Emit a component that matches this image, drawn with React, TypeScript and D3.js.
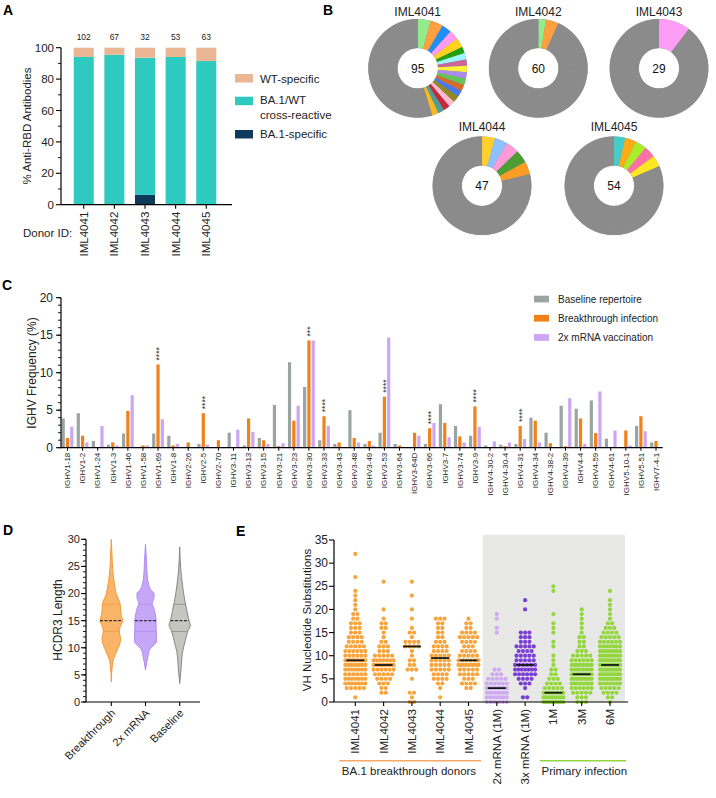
import React from 'react';
import * as d3 from 'd3';

const FONT = "'Liberation Sans', Arial, Helvetica, sans-serif";

// ---------- Panel A ----------
const donorIds = ['IML4041', 'IML4042', 'IML4043', 'IML4044', 'IML4045'];
const donorCounts = [102, 67, 32, 53, 63];
const ba1Specific = [0, 0, 6.25, 0, 0];
const crossReactive = [94.1, 95.5, 87.4, 94.1, 91.5];
const wtSpecific = [5.9, 4.5, 6.35, 5.9, 8.5];
const aTicks = [0, 20, 40, 60, 80, 100];
const aColors = { wt: '#ebb694', cross: '#2ec9bf', ba1: '#0e3a5c' };

// ---------- Panel B ----------
const donutTotals = [95, 60, 29, 47, 54];
const clones4041 = [4, 4, 3, 3, 3, 2, 2, 2, 2, 2, 2, 2, 2, 2, 2, 2, 2, 2];
const colors4041 = ['#93ec8c', '#ffa040', '#1f8ff5', '#ff9bf0', '#ffd31c', '#23a00c', '#9cf6ff', '#c9659b', '#fff03a', '#a98cec', '#63c65b', '#d46c2c', '#4a78ee', '#8f8b1f', '#ffbad0', '#c62a3a', '#4e9d9c', '#f7b91c'];
const clones4042 = [1.5, 2.5];
const colors4042 = ['#93ec8c', '#ffa040'];
const clones4043 = [3];
const colors4043 = ['#ff9cf6'];
const clones4044 = [2, 2, 2, 2, 2];
const colors4044 = ['#ffd02c', '#8cc0ff', '#ff9ad8', '#4b9e32', '#ff9c24'];
const clones4045 = [2, 2, 2, 2, 2];
const colors4045 = ['#45cdcb', '#ffab16', '#aaee2a', '#ff70a8', '#ffe822'];

// ---------- Panel C ----------
const genes = ['IGHV1-18', 'IGHV1-2', 'IGHV1-24', 'IGHV1-3', 'IGHV1-46', 'IGHV1-58', 'IGHV1-69', 'IGHV1-8', 'IGHV2-26', 'IGHV2-5', 'IGHV2-70', 'IGHV3-11', 'IGHV3-13', 'IGHV3-15', 'IGHV3-21', 'IGHV3-23', 'IGHV3-30', 'IGHV3-33', 'IGHV3-43', 'IGHV3-48', 'IGHV3-49', 'IGHV3-53', 'IGHV3-64', 'IGHV3-64D', 'IGHV3-66', 'IGHV3-7', 'IGHV3-74', 'IGHV3-9', 'IGHV4-30-2', 'IGHV4-30-4', 'IGHV4-31', 'IGHV4-34', 'IGHV4-38-2', 'IGHV4-39', 'IGHV4-4', 'IGHV4-59', 'IGHV4-61', 'IGHV5-10-1', 'IGHV5-51', 'IGHV7-4-1'];
const baseline = [3.9, 4.6, 0.9, 0.4, 1.9, 0, 1.9, 1.6, 0, 0.5, 0, 2.0, 0.3, 1.3, 5.7, 11.4, 8.1, 1.0, 0.5, 5.0, 0.5, 2.0, 0.5, 0, 0.5, 5.8, 2.9, 1.6, 0.3, 0.4, 0.5, 4.0, 2.0, 5.6, 5.2, 6.3, 1.2, 0, 2.9, 0.7];
const breakthrough = [1.3, 1.6, 0, 0.7, 4.9, 0.3, 11.1, 0.3, 0.7, 4.6, 1.0, 0, 3.9, 1.0, 0.2, 3.6, 14.3, 4.2, 0.7, 1.3, 0.9, 6.8, 0.3, 2.0, 2.6, 3.3, 1.5, 5.5, 0, 0.2, 2.9, 3.6, 0.6, 0.2, 3.9, 1.95, 0, 2.3, 4.2, 0.9];
const mrna2x = [2.8, 0.7, 2.9, 0.3, 7.0, 0.3, 3.8, 0.5, 0, 0.4, 0, 2.4, 2.1, 0.5, 0.6, 5.6, 14.3, 2.9, 0.1, 0.7, 0.3, 14.7, 0, 1.6, 3.3, 1.4, 0.7, 2.8, 0.85, 0.7, 1.15, 0.7, 0, 6.6, 0.5, 7.5, 2.3, 0.3, 2.2, 0];
const significance = ['', '', '', '', '', '', '****', '', '', '****', '', '', '', '', '', '', '***', '****', '', '', '', '****', '', '', '****', '', '', '****', '', '', '****', '', '', '', '', '', '', '', '', ''];
const cSeries = ['Baseline repertoire', 'Breakthrough infection', '2x mRNA vaccination'];
const cColors = ['#9aa5a3', '#f28119', '#cca6f4'];

// ---------- Panel D ----------
const violinGroups = ['Breakthrough', '2x mRNA', 'Baseline'];
const violinBreakthrough: [number, number][] = [[30, 0], [27.1, 0.06], [24.6, 0.12], [22.8, 0.21], [20.9, 0.35], [19.4, 0.53], [18.5, 0.74], [17.9, 0.79], [17, 0.82], [16, 0.88], [15, 1], [13.9, 0.79], [13, 0.71], [11.7, 0.82], [10.8, 0.76], [9.9, 0.59], [9, 0.41], [8, 0.21], [6.8, 0.09], [3.7, 0]];
const violinMrna: [number, number][] = [[29.1, 0], [25.9, 0.09], [23.4, 0.15], [21.6, 0.29], [20.6, 0.5], [20, 0.76], [19.1, 0.74], [18.2, 0.59], [17.3, 0.74], [16, 0.88], [15, 0.94], [13.9, 0.94], [12.4, 0.97], [11.1, 0.97], [10.5, 0.74], [9.6, 0.35], [8.7, 0.24], [5.9, 0]];
const violinBaseline: [number, number][] = [[28.6, 0], [24.6, 0.09], [21.6, 0.24], [18.5, 0.47], [16.7, 0.65], [15, 0.82], [14.2, 0.94], [13, 0.71], [11.1, 0.47], [9.3, 0.26], [6.2, 0.12], [3.4, 0]];
const violinQuartiles = [[13, 15, 18], [13, 15, 18], [13, 15, 18]];
const violinFill = ['#f9b468', '#c6a6f6', '#c4c6bf'];
const violinStroke = ['#f59a3a', '#b08cf0', '#85887f'];

// ---------- Panel E ----------
const eGroups = ['IML4041', 'IML4042', 'IML4043', 'IML4044', 'IML4045', '2x mRNA (1M)', '3x mRNA (1M)', '1M', '3M', '6M'];
const eMedians = [9, 8, 12, 9.5, 9, 3, 8, 2, 6, 8];
const eColors = ['#f7a43c', '#f7a43c', '#f7a43c', '#f7a43c', '#f7a43c', '#cfaaf3', '#7b3fd4', '#93d63e', '#93d63e', '#93d63e'];
const dist4041: [number, number][] = [[32, 1], [27, 1], [24, 1], [23, 1], [22, 1], [21, 1], [20, 1], [19, 2], [18, 2], [17, 3], [16, 3], [15, 3], [14, 4], [13, 4], [12, 5], [11, 6], [10, 6], [9, 9], [8, 8], [7, 7], [6, 6], [5, 7], [4, 7], [3, 5], [1, 1]];
const dist4042: [number, number][] = [[26, 1], [20, 1], [18, 1], [17, 2], [16, 2], [15, 1], [14, 1], [13, 2], [12, 3], [11, 3], [10, 5], [9, 7], [8, 9], [7, 6], [6, 5], [5, 4], [4, 3], [3, 2], [2, 2]];
const dist4043: [number, number][] = [[26, 1], [23, 1], [20, 1], [18, 1], [16, 1], [15, 2], [14, 1], [13, 4], [12, 4], [11, 1], [10, 1], [9, 2], [8, 2], [7, 3], [5, 1], [2, 2], [1, 1], [0, 2]];
const dist4044: [number, number][] = [[18, 3], [17, 2], [16, 2], [15, 2], [14, 2], [13, 3], [12, 4], [11, 4], [10, 5], [9, 5], [8, 5], [7, 5], [6, 4], [5, 4], [4, 2], [3, 1], [1, 1]];
const dist4045: [number, number][] = [[18, 1], [17, 2], [16, 2], [15, 4], [14, 5], [13, 4], [12, 3], [11, 4], [10, 5], [9, 6], [8, 8], [7, 5], [6, 5], [5, 3], [4, 4], [3, 2]];
const distMrna2: [number, number][] = [[19, 1], [18, 1], [16, 1], [15, 1], [7, 2], [6, 3], [5, 5], [4, 6], [3, 8], [2, 8], [1, 7], [0, 6]];
const distMrna3: [number, number][] = [[22, 1], [20, 1], [15, 3], [14, 3], [13, 3], [12, 5], [11, 4], [10, 5], [9, 5], [8, 6], [7, 7], [6, 6], [5, 4], [4, 3], [3, 1], [1, 2]];
const dist1M: [number, number][] = [[25, 1], [24, 1], [19, 1], [17, 1], [16, 1], [15, 1], [13, 1], [12, 1], [10, 1], [9, 1], [8, 1], [7, 2], [6, 2], [5, 3], [4, 4], [3, 5], [2, 8], [1, 9], [0, 11]];
const dist3M: [number, number][] = [[20, 1], [19, 1], [18, 1], [17, 1], [16, 1], [15, 1], [14, 2], [13, 2], [12, 2], [11, 3], [10, 5], [9, 6], [8, 8], [7, 8], [6, 9], [5, 9], [4, 8], [3, 6], [2, 5], [1, 3], [0, 3]];
const dist6M: [number, number][] = [[24, 1], [22, 1], [21, 1], [20, 1], [19, 1], [18, 1], [17, 2], [16, 3], [15, 4], [14, 5], [13, 6], [12, 7], [11, 8], [10, 9], [9, 10], [8, 10], [7, 11], [6, 11], [5, 10], [4, 7], [3, 5], [2, 4], [1, 2], [0, 1]];
const eDists = [dist4041, dist4042, dist4043, dist4044, dist4045, distMrna2, distMrna3, dist1M, dist3M, dist6M];

const PanelLetter = ({ x, y, t }: { x: number; y: number; t: string }) => (
  <text x={x} y={y} fontSize={14} fontWeight="bold" fontFamily={FONT}>{t}</text>
);

function YAxis({ scale, x, major, minor, fs, labelGap = 7 }: any) {
  const [r0, r1] = scale.range();
  return (
    <g>
      <line x1={x} x2={x} y1={r0} y2={r1} stroke="#000" strokeWidth={1.2} />
      {minor.map((v: number) => (
        <line key={'m' + v} x1={x - 3} x2={x} y1={scale(v)} y2={scale(v)} stroke="#000" strokeWidth={0.9} />
      ))}
      {major.map((v: number) => (
        <g key={'M' + v}>
          <line x1={x - 5} x2={x} y1={scale(v)} y2={scale(v)} stroke="#000" strokeWidth={1.1} />
          <text x={x - labelGap} y={scale(v)} dy="0.35em" textAnchor="end" fontSize={fs} fontFamily={FONT} fill="#222">{v}</text>
        </g>
      ))}
    </g>
  );
}

function PanelA() {
  const y = d3.scaleLinear().domain([0, 100]).range([204.7, 47.7]);
  const x = d3.scaleBand().domain(donorIds).range([61, 229]).paddingInner(0.346).paddingOuter(0.415);
  const stack = donorIds.map((d, i) => ({ d, a: ba1Specific[i], b: crossReactive[i], c: wtSpecific[i] }));
  const minor = d3.range(10, 100, 20);
  const leg = [
    { c: aColors.wt, y0: 74, lines: ['WT-specific'], ty: 79 },
    { c: aColors.cross, y0: 96.7, lines: ['BA.1/WT', 'cross-reactive'], ty: 99.5 },
    { c: aColors.ba1, y0: 130, lines: ['BA.1-specific'], ty: 134 },
  ];
  return (
    <g>
      <PanelLetter x={3} y={15} t="A" />
      {stack.map((s, i) => {
        const bx = x(s.d)!;
        const w = x.bandwidth();
        return (
          <g key={s.d}>
            {s.a > 0 && <rect x={bx} width={w} y={y(s.a)} height={y(0) - y(s.a)} fill={aColors.ba1} />}
            <rect x={bx} width={w} y={y(s.a + s.b)} height={y(s.a) - y(s.a + s.b)} fill={aColors.cross} />
            <rect x={bx} width={w} y={y(s.a + s.b + s.c)} height={y(s.a + s.b) - y(s.a + s.b + s.c)} fill={aColors.wt} />
            <text x={bx + w / 2} y={39.5} textAnchor="middle" fontSize={8.5} fontFamily={FONT} fill="#222">{donorCounts[i]}</text>
            <line x1={bx + w / 2} x2={bx + w / 2} y1={y(0)} y2={y(0) + 4} stroke="#000" strokeWidth={1.1} />
            <text transform={`translate(${bx + w / 2},${y(0) + 7}) rotate(-90)`} dy="0.35em" textAnchor="end" fontSize={11.5} fontFamily={FONT} fill="#222">{s.d}</text>
          </g>
        );
      })}
      <YAxis scale={y} x={61} major={aTicks} minor={minor} fs={11.5} />
      <line x1={61} x2={232} y1={y(0)} y2={y(0)} stroke="#000" strokeWidth={1.2} />
      <text transform={`translate(27,126) rotate(-90)`} textAnchor="middle" dy="0.35em" fontSize={11.5} fontFamily={FONT} fill="#222">% Anti-RBD Antibodies</text>
      <text x={23} y={237} fontSize={11.5} fontFamily={FONT} fill="#222">Donor ID:</text>
      {leg.map((l, i) => (
        <g key={i}>
          <rect x={235} y={l.y0} width={18} height={8.5} fill={l.c} />
          {l.lines.map((t, j) => (
            <text key={j} x={260} y={l.ty + j * 15} dy="0.35em" fontSize={11.5} fontFamily={FONT} fill="#222">{t}</text>
          ))}
        </g>
      ))}
    </g>
  );
}

function Donut({ cx, cy, title, total, clones, colors, titleY }: any) {
  const singles = total - d3.sum(clones as number[]);
  const items = [
    ...clones.map((v: number, i: number) => ({ v, c: colors[i], s: 'none', sw: 0 })),
    ...d3.range(Math.round(singles)).map(() => ({ v: 1, c: '#8b8b8b', s: '#929292', sw: 0.25 })),
  ];
  const pie = d3.pie<any>().value((d) => d.v).sort(null);
  const arc = d3.arc<any>().innerRadius(20.3).outerRadius(49.3);
  const ring = d3.arc<any>().innerRadius(20.3).outerRadius(49.3).startAngle(0).endAngle(2 * Math.PI);
  return (
    <g>
      <text x={cx} y={titleY} textAnchor="middle" fontSize={12} fontFamily={FONT} fill="#222">{title}</text>
      <g transform={`translate(${cx},${cy})`}>
        <path d={ring({}) || ''} fill="#8b8b8b" />
        {pie(items).map((a, i) => (
          <path key={i} d={arc(a) || ''} fill={a.data.c} stroke={a.data.s} strokeWidth={a.data.sw} />
        ))}
        <text textAnchor="middle" dy="0.36em" fontSize={12} fontFamily={FONT} fill="#111">{total}</text>
      </g>
    </g>
  );
}

function PanelB() {
  return (
    <g>
      <PanelLetter x={323} y={15} t="B" />
      <Donut cx={417.7} cy={68.3} titleY={16} title="IML4041" total={donutTotals[0]} clones={clones4041} colors={colors4041} />
      <Donut cx={538.3} cy={68.3} titleY={16} title="IML4042" total={donutTotals[1]} clones={clones4042} colors={colors4042} />
      <Donut cx={659} cy={68.3} titleY={16} title="IML4043" total={donutTotals[2]} clones={clones4043} colors={colors4043} />
      <Donut cx={482} cy={185.7} titleY={131} title="IML4044" total={donutTotals[3]} clones={clones4044} colors={colors4044} />
      <Donut cx={614} cy={185.7} titleY={131} title="IML4045" total={donutTotals[4]} clones={clones4045} colors={colors4045} />
    </g>
  );
}

function PanelC() {
  const y = d3.scaleLinear().domain([0, 20]).range([447.7, 297.7]);
  const x = d3.scalePoint().domain(genes).range([67.5, 656]);
  const series = [baseline, breakthrough, mrna2x];
  const offs = [-4.3, 0, 4.3];
  const bw = 3.2;
  return (
    <g>
      <PanelLetter x={2} y={290} t="C" />
      {genes.map((g, i) => {
        const cx = x(g)!;
        return (
          <g key={g}>
            {series.map((s, k) => s[i] > 0 && (
              <rect key={k} x={cx + offs[k] - bw / 2} width={bw} y={y(s[i])} height={y(0) - y(s[i])} fill={cColors[k]} />
            ))}
            {significance[i] && (
              <text transform={`translate(${cx},${y(breakthrough[i]) - 4}) rotate(-90)`} dy="0.52em" fontSize={8.5} fontFamily={FONT} fill="#333">{significance[i]}</text>
            )}
            <line x1={cx} x2={cx} y1={y(0)} y2={y(0) + 3} stroke="#000" strokeWidth={1} />
            <text transform={`translate(${cx},${y(0) + 5}) rotate(-90)`} dy="0.35em" textAnchor="end" fontSize={8} fontFamily={FONT} fill="#222">{g}</text>
          </g>
        );
      })}
      <YAxis scale={y} x={61} major={[0, 5, 10, 15, 20]} minor={d3.range(0, 21)} fs={12} labelGap={8} />
      <line x1={61} x2={662.7} y1={y(0)} y2={y(0)} stroke="#000" strokeWidth={1.3} />
      <text transform={`translate(31.5,373) rotate(-90)`} textAnchor="middle" dy="0.35em" fontSize={12} fontFamily={FONT} fill="#222">IGHV Frequency (%)</text>
      {cSeries.map((s, k) => (
        <g key={s}>
          <rect x={534} y={295.7 + k * 19.2} width={15} height={6.7} fill={cColors[k]} />
          <text x={558} y={299 + k * 19.2} dy="0.35em" fontSize={10} fontFamily={FONT} fill="#222">{s}</text>
        </g>
      ))}
    </g>
  );
}

function interpWidth(profile: [number, number][], v: number) {
  for (let i = 0; i < profile.length - 1; i++) {
    const [a, wa] = profile[i];
    const [b, wb] = profile[i + 1];
    if ((v <= a && v >= b)) {
      const t = (a - v) / (a - b || 1);
      return wa + (wb - wa) * t;
    }
  }
  return 0;
}

function PanelD() {
  const y = d3.scaleLinear().domain([0, 30]).range([702, 539.3]);
  const x = d3.scalePoint().domain(violinGroups).range([111.3, 179.7]);
  const wScale = d3.scaleLinear().domain([0, 1]).range([0, 11.3]);
  const profiles = [violinBreakthrough, violinMrna, violinBaseline];
  return (
    <g>
      <PanelLetter x={3} y={535} t="D" />
      {violinGroups.map((g, i) => {
        const cx = x(g)!;
        const prof = profiles[i];
        const area = d3.area<[number, number]>()
          .y((d) => y(d[0]))
          .x0((d) => cx - wScale(d[1]))
          .x1((d) => cx + wScale(d[1]))
          .curve(d3.curveMonotoneY);
        const q = violinQuartiles[i];
        return (
          <g key={g}>
            <path d={area(prof) || ''} fill={violinFill[i]} stroke={violinStroke[i]} strokeWidth={1} />
            {[q[0], q[2]].map((v, k) => {
              const w = wScale(interpWidth(prof, v));
              return <line key={k} x1={cx - w} x2={cx + w} y1={y(v)} y2={y(v)} stroke={violinStroke[i]} strokeWidth={0.7} />;
            })}
            {(() => {
              const w = wScale(interpWidth(prof, q[1]));
              return <line x1={cx - w} x2={cx + w} y1={y(q[1])} y2={y(q[1])} stroke="#333" strokeWidth={1.2} strokeDasharray="3,1.5" />;
            })()}
            <line x1={cx} x2={cx} y1={y(0)} y2={y(0) + 4} stroke="#000" strokeWidth={1.1} />
            <text transform={`translate(${cx + 2},${y(0) + 9}) rotate(-45)`} textAnchor="end" dy="0.35em" fontSize={11} fontFamily={FONT} fill="#222">{g}</text>
          </g>
        );
      })}
      <YAxis scale={y} x={86} major={[0, 5, 10, 15, 20, 25, 30]} minor={d3.range(0, 31)} fs={11} labelGap={6} />
      <line x1={86} x2={200} y1={y(0)} y2={y(0)} stroke="#000" strokeWidth={1.2} />
      <text transform={`translate(58,620) rotate(-90)`} textAnchor="middle" dy="0.35em" fontSize={12} fontFamily={FONT} fill="#222">HCDR3 Length</text>
    </g>
  );
}

function PanelE() {
  const y = d3.scaleLinear().domain([0, 35]).range([702, 540]);
  const x = d3.scalePoint().domain(eGroups).range([355.3, 610]);
  const maxW = 20;
  const r = 2.1;
  return (
    <g>
      <PanelLetter x={236} y={536} t="E" />
      <rect x={482.7} y={534.7} width={625 - 482.7} height={y(0) - 534.7} fill="#e8e8e7" />
      {eGroups.map((g, i) => {
        const cx = x(g)!;
        const dots: { x: number; y: number }[] = [];
        eDists[i].forEach(([v, n]) => {
          const sp = n > 1 ? Math.min(4.3, maxW / (n - 1)) : 0;
          for (let k = 0; k < n; k++) dots.push({ x: cx + (k - (n - 1) / 2) * sp, y: y(v) });
        });
        return (
          <g key={g}>
            {dots.map((d, k) => <circle key={k} cx={d.x} cy={d.y} r={r} fill={eColors[i]} />)}
            <line x1={cx - 9} x2={cx + 9} y1={y(eMedians[i])} y2={y(eMedians[i])} stroke="#151a18" strokeWidth={1.8} />
            <line x1={cx} x2={cx} y1={y(0)} y2={y(0) + 4} stroke="#000" strokeWidth={1.1} />
            <text transform={`translate(${cx},${y(0) + 7}) rotate(-90)`} dy="0.35em" textAnchor="end" fontSize={11.5} fontFamily={FONT} fill="#222">{g}</text>
          </g>
        );
      })}
      <YAxis scale={y} x={334} major={[0, 5, 10, 15, 20, 25, 30, 35]} minor={[]} fs={12} labelGap={6} />
      <line x1={334} x2={628} y1={y(0)} y2={y(0)} stroke="#000" strokeWidth={1.2} />
      <text transform={`translate(306.7,620) rotate(-90)`} textAnchor="middle" dy="0.35em" fontSize={11.5} fontFamily={FONT} fill="#222">VH Nucleotide Substitutions</text>
      <line x1={339.3} x2={481} y1={760.7} y2={760.7} stroke="#f6a867" strokeWidth={1.5} />
      <text x={409} y={771} dy="0.35em" textAnchor="middle" fontSize={11.5} fontFamily={FONT} fill="#222">BA.1 breakthrough donors</text>
      <line x1={540} x2={626} y1={760.7} y2={760.7} stroke="#93d63e" strokeWidth={1.5} />
      <text x={584.3} y={771} dy="0.35em" textAnchor="middle" fontSize={11.5} fontFamily={FONT} fill="#222">Primary infection</text>
    </g>
  );
}

export default function App() {
  return (
    <svg width={716} height={798} style={{ position: 'absolute', left: 0, top: 0, background: '#fff' }}>
      <rect width={716} height={798} fill="#fff" />
      <PanelA />
      <PanelB />
      <PanelC />
      <PanelD />
      <PanelE />
    </svg>
  );
}
